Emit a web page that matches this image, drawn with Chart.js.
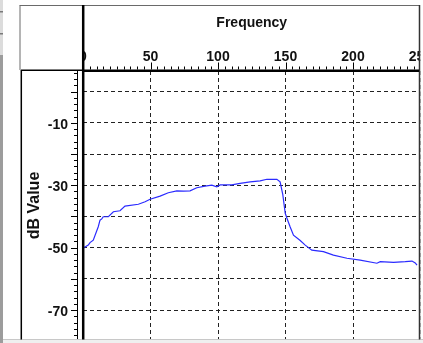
<!DOCTYPE html>
<html>
<head>
<meta charset="utf-8">
<script src="https://cdn.jsdelivr.net/npm/chart.js@4.4.1/dist/chart.umd.min.js"></script>
<style>
  html, body { margin: 0; padding: 0; background: #fff; overflow: hidden; }
  canvas { display: block; }
</style>
</head>
<body>
<canvas id="spectrum" width="423" height="343"></canvas>
<script>
// Measured response: frequency (Hz) and level (dB)
const freqHz = [0, 3.9, 5.2, 7.6, 11.3, 12.6, 13.9, 15, 18.8, 22.5, 27.4, 31.1, 41, 46, 49.7,
  57.1, 63.2, 69.5, 74.4, 79.3, 84.3, 90.4, 95.4, 99.1, 101.6, 110.2, 116.4, 123.8, 131.2,
  136.2, 143.6, 146, 148, 149.8, 151, 153.4, 155.9, 160.9, 164.6, 169.5, 178.1, 185.5,
  195.5, 205.3, 217.7, 220.2, 230, 238.7, 243.7, 246.1, 247.4];
const dbValue = [-50.2, -49.2, -48.4, -47.6, -43.3, -41.2, -40.8, -40.1, -40.1, -38.5, -38.2,
  -36.7, -36.1, -35.3, -34.5, -33.5, -32.4, -31.8, -31.9, -31.8, -30.8, -30.3, -30, -30.5,
  -29.9, -29.9, -29.4, -28.9, -28.6, -28.1, -28.1, -28.9, -33, -39, -40.5, -43.3, -46,
  -47.7, -49.2, -50.8, -51.3, -52.4, -53.4, -54, -55, -54.5, -54.7, -54.5, -54.3, -54.9, -55.6];

// Axis ticks
const freqTicks = [0, 50, 100, 150, 200, 250];
const dbTicks = [0, -10, -20, -30, -40, -50, -60, -70];
const dbLabelled = [-10, -30, -50, -70];
const freqRange = [0, 250];
const dbRange = [-79.6, 6.6];

const boldFace = "'Liberation Sans', Arial, sans-serif";

// Panel frame, corner box and tick marks around the plot area
const framePlugin = {
  id: 'panelFrame',
  beforeDraw(chart) {
    const ctx = chart.ctx;
    ctx.save();
    ctx.fillStyle = '#ffffff';
    ctx.fillRect(0, 0, chart.width, chart.height);
    // window edge strip at the far left
    ctx.fillStyle = '#dcdcdc';
    ctx.fillRect(0, 0, 3, 55);
    ctx.fillStyle = '#9c9c9c';
    ctx.fillRect(0, 55, 3, 288);
    ctx.fillStyle = '#7a7a7a';
    ctx.fillRect(0, 11, 3, 1.5);
    ctx.fillRect(0, 33, 3, 1.5);
    ctx.restore();
  },
  afterDraw(chart) {
    const {ctx, scales: {x, y}} = chart;
    ctx.save();
    // blank corner box above the value axis
    ctx.fillStyle = '#ffffff';
    ctx.fillRect(21, 6, 61, 63.5);
    // blank margin right of the panel
    ctx.fillRect(420.3, 0, 3, 343);
    // bottom window edge
    ctx.fillStyle = '#efefef';
    ctx.fillRect(3, 340, 420, 3);
    ctx.strokeStyle = '#c8c8c8';
    ctx.lineWidth = 1;
    ctx.beginPath(); ctx.moveTo(3, 339.5); ctx.lineTo(423, 339.5); ctx.stroke();

    ctx.strokeStyle = '#000';
    ctx.lineWidth = 1;
    // frequency tick marks (top)
    for (let v = freqRange[0]; v <= freqRange[1]; v += 5) {
      const px = Math.round(x.getPixelForValue(v)) + 0.5;
      if (px > 419) continue;
      const len = v % 50 === 0 ? 7 : 3;
      ctx.beginPath(); ctx.moveTo(px, 69.5 - len); ctx.lineTo(px, 69.5); ctx.stroke();
    }
    // dB tick marks (left)
    for (let v = -78; v <= 6; v += 2) {
      const py = Math.round(y.getPixelForValue(v)) + 0.5;
      const len = v % 10 === 0 ? 6 : 3;
      ctx.beginPath(); ctx.moveTo(77 - len, py); ctx.lineTo(77, py); ctx.stroke();
    }
    ctx.beginPath(); ctx.moveTo(77.5, 71); ctx.lineTo(77.5, 339); ctx.stroke();

    // outer frame
    ctx.strokeStyle = '#6a6a6a';
    ctx.beginPath(); ctx.moveTo(19.5, 5.5); ctx.lineTo(420, 5.5); ctx.stroke();
    ctx.beginPath(); ctx.moveTo(20, 5.5); ctx.lineTo(20, 70); ctx.stroke();
    ctx.strokeStyle = '#000';
    ctx.lineWidth = 1.5;
    ctx.beginPath(); ctx.moveTo(21.3, 70); ctx.lineTo(21.3, 339.5); ctx.stroke();
    ctx.beginPath(); ctx.moveTo(21, 70.3); ctx.lineTo(83, 70.3); ctx.stroke();
    ctx.strokeStyle = '#333';
    ctx.beginPath(); ctx.moveTo(419.5, 5); ctx.lineTo(419.5, 339.5); ctx.stroke();
    // heavy axis lines
    ctx.strokeStyle = '#000';
    ctx.lineWidth = 2.5;
    ctx.beginPath(); ctx.moveTo(83.2, 5); ctx.lineTo(83.2, 339.5); ctx.stroke();
    ctx.beginPath(); ctx.moveTo(83, 70.8); ctx.lineTo(419, 70.8); ctx.stroke();
    ctx.restore();
  }
};

new Chart(document.getElementById('spectrum'), {
  type: 'line',
  data: {
    datasets: [{
      data: freqHz.map((f, i) => ({x: f, y: dbValue[i]})),
      borderColor: '#2b2bff',
      borderWidth: 1.2,
      pointRadius: 0,
      tension: 0,
      fill: false
    }]
  },
  options: {
    responsive: false,
    devicePixelRatio: 1,
    animation: false,
    layout: { padding: { top: 0, left: 0, right: 2.5, bottom: 3 } },
    plugins: { legend: { display: false }, tooltip: { enabled: false } },
    scales: {
      x: {
        type: 'linear',
        position: 'top',
        min: freqRange[0],
        max: freqRange[1],
        afterBuildTicks(scale) { scale.ticks = freqTicks.map(v => ({value: v})); },
        afterFit(scale) {
          scale.height = 71;
          scale.paddingLeft = 0; scale.paddingRight = 0;
          scale.paddingTop = 0; scale.paddingBottom = 0;
        },
        ticks: {
          color: '#111',
          font: { family: boldFace, size: 14, weight: 'bold' },
          padding: 5,
          maxRotation: 0,
          autoSkip: false,
          callback: v => String(v)
        },
        grid: { color: '#222', lineWidth: 1, drawTicks: false },
        border: { display: false, dash: [4, 3] },
        title: {
          display: true,
          text: 'Frequency',
          color: '#111',
          font: { family: boldFace, size: 14, weight: 'bold' },
          padding: { top: 15, bottom: 0 }
        }
      },
      y: {
        type: 'linear',
        position: 'left',
        min: dbRange[0],
        max: dbRange[1],
        afterBuildTicks(scale) { scale.ticks = dbTicks.map(v => ({value: v})); },
        afterFit(scale) {
          scale.width = 83;
          scale.paddingLeft = 0; scale.paddingRight = 0;
          scale.paddingTop = 0; scale.paddingBottom = 0;
        },
        ticks: {
          color: '#111',
          font: { family: boldFace, size: 14, weight: 'bold' },
          padding: 15,
          labelOffset: 2,
          autoSkip: false,
          callback: v => dbLabelled.includes(v) ? String(v) : ''
        },
        grid: { color: '#222', lineWidth: 1, drawTicks: false },
        border: { display: false, dash: [4, 3] },
        title: {
          display: true,
          text: 'dB Value',
          color: '#111',
          font: { family: boldFace, size: 16, weight: 'bold' },
          padding: { top: 25, bottom: 0 }
        }
      }
    }
  },
  plugins: [framePlugin]
});
</script>
</body>
</html>
